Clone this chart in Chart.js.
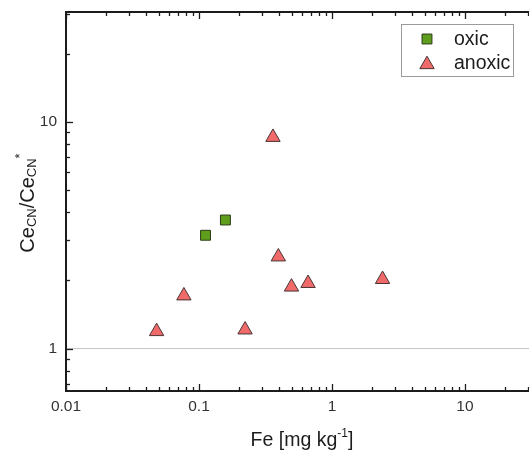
<!DOCTYPE html>
<html>
<head>
<meta charset="utf-8">
<script src="https://cdn.jsdelivr.net/npm/chart.js@4.4.0/dist/chart.umd.min.js"></script>
<style>
  html, body { margin: 0; padding: 0; background: #fff; }
  #wrap { width: 529px; height: 452px; }
</style>
</head>
<body>
<div id="wrap"><canvas id="c" width="529" height="452"></canvas></div>
<script>
// data
const oxicFe = [0.112, 0.158];
const oxicRatio = [3.16, 3.69];
const anoxicFe = [0.048, 0.077, 0.222, 0.36, 0.395, 0.496, 0.661, 2.40];
const anoxicRatio = [1.19, 1.71, 1.21, 8.55, 2.54, 1.87, 1.94, 2.02];

const xMajorTicks = [0.01, 0.1, 1, 10];
const xTickLabels = ["0.01", "0.1", "1", "10"];
const yMajorTicks = [1, 10];
const yTickLabels = ["1", "10"];
const minorSteps = [2, 3, 4, 5, 6, 7, 8, 9];
const refLine = 1;

const xMin = 0.01, xMax = 30.3;
const yMin = 0.65, yMax = 30.5;

const FONT = "Arial, 'Liberation Sans', sans-serif";
const INK = "#1c1c1c";

function pts(xs, ys) {
  return xs.map((x, i) => ({ x: x, y: ys[i] }));
}

// axes are hidden in chart.js so the plot area can run to the right edge;
// ticks, labels and frame are drawn here from the scales
const framePlugin = {
  id: "frame",
  afterDatasetsDraw(chart) {
    const { ctx, chartArea: a, scales } = chart;
    const xs = scales.x, ys = scales.y;
    ctx.save();
    ctx.strokeStyle = INK;

    ctx.lineWidth = 1.3;
    const xTicks = [];
    xMajorTicks.forEach(d => {
      xTicks.push([d, 7]);
      minorSteps.forEach(m => xTicks.push([d * m, 4]));
    });
    xTicks.forEach(([v, len]) => {
      if (v < xMin || v > xMax) return;
      const px = Math.round(xs.getPixelForValue(v)) + 0.5;
      ctx.beginPath();
      ctx.moveTo(px, a.bottom); ctx.lineTo(px, a.bottom - len);
      ctx.moveTo(px, a.top); ctx.lineTo(px, a.top + len);
      ctx.stroke();
    });

    const yTicks = [];
    [0.1, 1, 10].forEach(d => {
      yTicks.push([d, 7]);
      minorSteps.forEach(m => yTicks.push([d * m, 4]));
    });
    yTicks.forEach(([v, len]) => {
      if (v < yMin || v > yMax) return;
      const py = Math.round(ys.getPixelForValue(v)) + 0.5;
      ctx.beginPath();
      ctx.moveTo(a.left, py); ctx.lineTo(a.left + len, py);
      ctx.stroke();
    });

    ctx.lineWidth = 2;
    ctx.beginPath();
    ctx.moveTo(a.right + 4, a.top);
    ctx.lineTo(a.left, a.top);
    ctx.lineTo(a.left, a.bottom);
    ctx.lineTo(a.right + 4, a.bottom);
    ctx.stroke();

    // tick labels
    ctx.fillStyle = "#333";
    ctx.font = "15.5px " + FONT;
    ctx.textAlign = "center";
    ctx.textBaseline = "middle";
    xMajorTicks.forEach((v, i) => {
      ctx.fillText(xTickLabels[i], xs.getPixelForValue(v), a.bottom + 16);
    });
    ctx.textAlign = "right";
    yMajorTicks.forEach((v, i) => {
      ctx.fillText(yTickLabels[i], a.left - 9, ys.getPixelForValue(v));
    });
    ctx.restore();
  },
  afterDraw(chart) {
    const { ctx } = chart;
    ctx.save();
    ctx.fillStyle = INK;
    ctx.textBaseline = "alphabetic";

    // x title: Fe [mg kg^-1]
    const big = "19.5px " + FONT, small = "12px " + FONT;
    const parts = [["Fe [mg kg", big, 0], ["-1", small, -9], ["]", big, 0]];
    let w = 0;
    parts.forEach(p => { ctx.font = p[1]; w += ctx.measureText(p[0]).width; });
    let x = 302 - w / 2;
    parts.forEach(p => {
      ctx.font = p[1];
      ctx.fillText(p[0], x, 446 + p[2]);
      x += ctx.measureText(p[0]).width;
    });

    // y title: Ce_CN / Ce_CN *
    const ybig = "20px " + FONT, sub = "13px " + FONT;
    const yparts = [["Ce", ybig, 0], ["CN", sub, 2], ["/Ce", ybig, 0], ["CN", sub, 2], ["*", sub, -10]];
    w = 0;
    yparts.forEach(p => { ctx.font = p[1]; w += ctx.measureText(p[0]).width; });
    ctx.translate(33.5, 203);
    ctx.rotate(-Math.PI / 2);
    x = -w / 2;
    yparts.forEach(p => {
      ctx.font = p[1];
      ctx.fillText(p[0], x, p[2]);
      x += ctx.measureText(p[0]).width;
    });
    ctx.restore();

    // legend box
    ctx.save();
    ctx.strokeStyle = "#9a9a9a";
    ctx.lineWidth = 1;
    ctx.strokeRect(401.5, 24.5, 112, 52);
    const items = chart.data.datasets.filter(d => d.label);
    items.forEach((d, i) => {
      const cy = 39 + i * 23.5;
      ctx.fillStyle = d.backgroundColor;
      ctx.strokeStyle = d.borderColor;
      ctx.lineWidth = d.borderWidth;
      Chart.helpers.drawPoint(ctx, {
        pointStyle: d.pointStyle, radius: d.pointRadius, borderWidth: d.borderWidth, rotation: 0
      }, 427, cy + (d.pointStyle === "triangle" ? 2 : 0));
      ctx.fillStyle = INK;
      ctx.font = "19.5px " + FONT;
      ctx.textBaseline = "middle";
      ctx.fillText(d.label, 454, cy + 1);
    });
    ctx.restore();
  }
};

new Chart(document.getElementById("c"), {
  type: "scatter",
  data: {
    datasets: [
      {
        label: "oxic",
        data: pts(oxicFe, oxicRatio),
        pointStyle: "rect",
        pointRadius: 7,
        backgroundColor: "#5e9e1c",
        borderColor: "#2c3a1a",
        borderWidth: 1,
        order: 1
      },
      {
        label: "anoxic",
        data: pts(anoxicFe, anoxicRatio),
        pointStyle: "triangle",
        pointRadius: 8.3,
        backgroundColor: "#f06a6a",
        borderColor: "#4a3434",
        borderWidth: 1,
        order: 1
      },
      {
        type: "line",
        data: [{ x: xMin, y: refLine }, { x: xMax, y: refLine }],
        borderColor: "#c4c4c4",
        borderWidth: 1,
        pointRadius: 0,
        order: 3
      }
    ]
  },
  options: {
    responsive: false,
    animation: false,
    layout: { autoPadding: false, padding: { top: 12, right: 0, bottom: 61, left: 66 } },
    plugins: { legend: { display: false }, tooltip: { enabled: false } },
    scales: {
      x: { type: "logarithmic", min: xMin, max: xMax, display: false },
      y: { type: "logarithmic", min: yMin, max: yMax, display: false }
    }
  },
  plugins: [framePlugin]
});
</script>
</body>
</html>
